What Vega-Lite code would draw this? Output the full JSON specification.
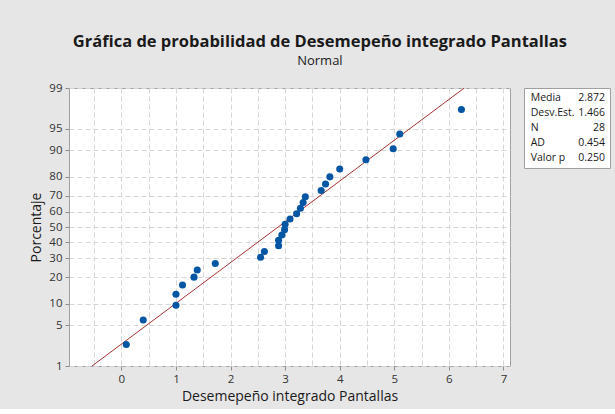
{
  "$schema": "https://vega.github.io/schema/vega-lite/v6.json",
  "background": "#e6e6e6",
  "padding": {"left": 29, "top": 34, "right": 4, "bottom": 5},
  "title": {
    "text": "Gráfica de probabilidad de Desemepeño integrado Pantallas",
    "subtitle": "Normal",
    "anchor": "middle",
    "font": "Open Sans",
    "fontSize": 16.5,
    "fontWeight": "bold",
    "color": "#1a1a1a",
    "subtitleFont": "Open Sans",
    "subtitleFontSize": 13,
    "subtitleColor": "#1a1a1a",
    "subtitlePadding": 4,
    "offset": 14
  },
  "datasets": {
    "points": [
      {"i": 1, "x": 0.09, "pct": 2.46, "z": -1.9664},
      {"i": 2, "x": 0.40, "pct": 5.99, "z": -1.5557},
      {"i": 3, "x": 1.00, "pct": 9.51, "z": -1.3100},
      {"i": 4, "x": 1.00, "pct": 13.03, "z": -1.1246},
      {"i": 5, "x": 1.12, "pct": 16.55, "z": -0.9721},
      {"i": 6, "x": 1.33, "pct": 20.07, "z": -0.8394},
      {"i": 7, "x": 1.39, "pct": 23.59, "z": -0.7196},
      {"i": 8, "x": 1.72, "pct": 27.11, "z": -0.6101},
      {"i": 9, "x": 2.55, "pct": 30.63, "z": -0.5072},
      {"i": 10, "x": 2.62, "pct": 34.15, "z": -0.4086},
      {"i": 11, "x": 2.88, "pct": 37.68, "z": -0.3137},
      {"i": 12, "x": 2.88, "pct": 41.20, "z": -0.2224},
      {"i": 13, "x": 2.94, "pct": 44.72, "z": -0.1328},
      {"i": 14, "x": 2.99, "pct": 48.24, "z": -0.0442},
      {"i": 15, "x": 3.00, "pct": 51.76, "z": 0.0442},
      {"i": 16, "x": 3.09, "pct": 55.28, "z": 0.1328},
      {"i": 17, "x": 3.21, "pct": 58.80, "z": 0.2224},
      {"i": 18, "x": 3.28, "pct": 62.32, "z": 0.3137},
      {"i": 19, "x": 3.33, "pct": 65.85, "z": 0.4086},
      {"i": 20, "x": 3.37, "pct": 69.37, "z": 0.5072},
      {"i": 21, "x": 3.66, "pct": 72.89, "z": 0.6101},
      {"i": 22, "x": 3.74, "pct": 76.41, "z": 0.7196},
      {"i": 23, "x": 3.82, "pct": 79.93, "z": 0.8394},
      {"i": 24, "x": 4.00, "pct": 83.45, "z": 0.9721},
      {"i": 25, "x": 4.48, "pct": 86.97, "z": 1.1246},
      {"i": 26, "x": 4.98, "pct": 90.49, "z": 1.3100},
      {"i": 27, "x": 5.10, "pct": 94.01, "z": 1.5557},
      {"i": 28, "x": 6.23, "pct": 97.54, "z": 1.9664}
    ],
    "fit": [
      {"x": -0.538, "pct": 1, "z": -2.3263},
      {"x": 6.282, "pct": 99, "z": 2.3263}
    ],
    "stats": [
      {"stat": "Media", "value": "2.872"},
      {"stat": "Desv.Est.", "value": "1.466"},
      {"stat": "N", "value": "28"},
      {"stat": "AD", "value": "0.454"},
      {"stat": "Valor p", "value": "0.250"}
    ]
  },
  "bounds": "flush",
  "spacing": 14,
  "hconcat": [
    {
      "width": 441,
      "height": 278,
      "encoding": {
        "x": {
          "field": "x", "type": "quantitative",
          "scale": {"domain": [-0.96, 7.12], "nice": false, "zero": false},
          "axis": {
            "title": "Desemepeño integrado Pantallas",
            "values": [-0.5, 0, 0.5, 1, 1.5, 2, 2.5, 3, 3.5, 4, 4.5, 5, 5.5, 6, 6.5, 7],
            "labelExpr": "datum.value % 1 == 0 ? datum.label : ''",
            "format": ".0f",
            "labelOverlap": false,
            "tickOpacity": {"condition": {"test": "datum.value % 1 != 0", "value": 0}, "value": 1}
          }
        },
        "y": {
          "field": "z", "type": "quantitative",
          "scale": {"domain": [-2.3263, 2.3263], "nice": false, "zero": false},
          "axis": {
            "title": "Porcentaje",
            "values": [-2.3263, -1.6449, -1.2816, -0.8416, -0.5244, -0.2533, 0, 0.2533, 0.5244, 0.8416, 1.2816, 1.6449, 2.3263],
            "labelExpr": "format(cumulativeNormal(datum.value) * 100, '.0f')",
            "labelOverlap": false
          }
        }
      },
      "layer": [
        {
          "data": {"name": "fit"},
          "mark": {"type": "line", "color": "#a83232", "strokeWidth": 1, "clip": true}
        },
        {
          "data": {"name": "points"},
          "mark": {"type": "circle", "size": 50, "color": "#0455a4", "opacity": 1}
        }
      ]
    },
    {
      "width": 86,
      "height": 80,
      "data": {"name": "stats"},
      "encoding": {
        "y": {"field": "stat", "type": "ordinal", "sort": null, "scale": {"type": "point", "padding": 0.667}, "axis": null}
      },
      "layer": [
        {
          "mark": {"type": "text", "align": "left", "baseline": "middle", "font": "Open Sans", "fontSize": 10.5, "color": "#1a1a1a"},
          "encoding": {
            "x": {"datum": 0, "type": "quantitative", "scale": {"domain": [-0.09, 1.067], "nice": false, "zero": false}, "axis": null},
            "text": {"field": "stat"}
          }
        },
        {
          "mark": {"type": "text", "align": "right", "baseline": "middle", "font": "Open Sans", "fontSize": 10.5, "color": "#1a1a1a"},
          "encoding": {
            "x": {"datum": 1, "type": "quantitative"},
            "text": {"field": "value"}
          }
        }
      ]
    }
  ],
  "config": {
    "view": {"fill": "white", "stroke": "#a0a0a0", "strokeWidth": 1},
    "axis": {
      "domain": false,
      "grid": true,
      "gridColor": "#d6d6d6",
      "gridDash": [5, 3],
      "gridWidth": 1,
      "tickColor": "#8c8c8c",
      "tickSize": 4,
      "labelOverlap": false,
      "labelFont": "Open Sans",
      "labelFontSize": 11.5,
      "labelColor": "#333333",
      "labelPadding": 3,
      "titleFont": "Open Sans",
      "titleFontSize": 14,
      "titleFontWeight": "normal",
      "titleColor": "#1a1a1a",
      "titlePadding": 5
    }
  }
}
